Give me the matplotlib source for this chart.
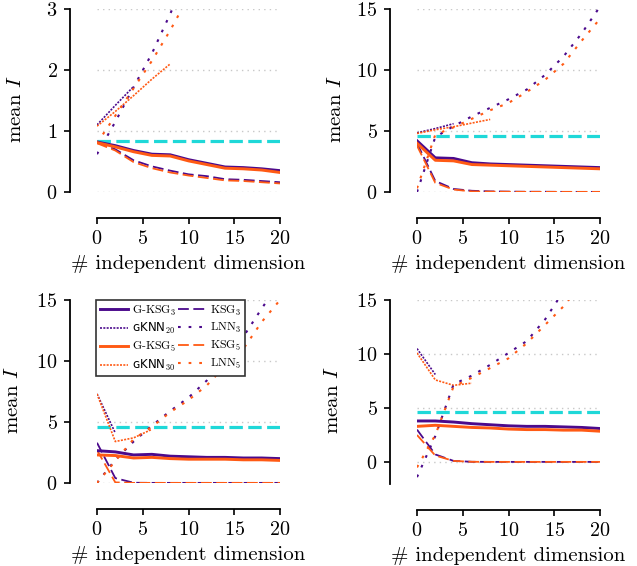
import matplotlib
matplotlib.use("Agg")
import matplotlib.pyplot as plt
import numpy as np

plt.rcParams['font.family'] = ['cmr10', 'DejaVu Serif']
plt.rcParams['mathtext.fontset'] = 'cm'
plt.rcParams['axes.unicode_minus'] = False
plt.rcParams['axes.formatter.use_mathtext'] = True

PURPLE = '#4b0a8c'
ORANGE = '#ff5a14'
CYAN = '#1fd8d8'

dims = [0, 2, 4, 6, 8, 10, 12, 14, 16, 18, 20]

# ---- panel 1 ----
p1_gksg3 = [0.82, 0.76, 0.68, 0.62, 0.61, 0.53, 0.47, 0.41, 0.40, 0.38, 0.35]
p1_gksg5 = [0.81, 0.74, 0.66, 0.60, 0.59, 0.51, 0.45, 0.39, 0.38, 0.36, 0.32]
p1_ksg3 = [0.82, 0.70, 0.52, 0.42, 0.35, 0.29, 0.26, 0.21, 0.20, 0.18, 0.16]
p1_ksg5 = [0.80, 0.68, 0.49, 0.39, 0.32, 0.27, 0.23, 0.19, 0.18, 0.16, 0.14]
p1_gknn20 = [1.10, 1.42, 1.73]
p1_gknn30 = [1.08, 1.32, 1.58, 1.85, 2.10]
p1_lnn3 = [0.62, 1.15, 1.72, 2.27, 2.92, 3.60, 4.30, 5.00, 5.70, 6.40, 7.10]
p1_lnn5 = [0.80, 1.25, 1.70, 2.15, 2.65, 3.20, 3.80, 4.40, 5.00, 5.60, 6.20]
p1_true = 0.83

# ---- panel 2 ----
p2_gksg3 = [4.20, 2.80, 2.75, 2.40, 2.30, 2.25, 2.20, 2.15, 2.10, 2.05, 2.00]
p2_gksg5 = [4.00, 2.60, 2.55, 2.25, 2.20, 2.15, 2.10, 2.05, 2.00, 1.95, 1.90]
p2_ksg3 = [4.00, 0.90, 0.25, 0.10, 0.05, 0.03, 0.02, 0.02, 0.01, 0.01, 0.01]
p2_ksg5 = [3.80, 0.75, 0.20, 0.05, 0.03, 0.02, 0.01, 0.01, 0.01, 0.01, 0.01]
p2_gknn20 = [4.85, 5.20, 5.60]
p2_gknn30 = [4.80, 5.10, 5.35, 5.65, 5.95]
p2_lnn3 = [0.00, 4.50, 5.40, 6.20, 6.90, 7.60, 8.40, 9.60, 11.10, 13.00, 15.20]
p2_lnn5 = [0.30, 4.70, 5.30, 6.00, 6.70, 7.30, 8.20, 9.20, 10.50, 12.40, 14.20]
p2_true = 4.6

# ---- panel 3 ----
p3_gksg3 = [2.65, 2.55, 2.30, 2.35, 2.20, 2.15, 2.10, 2.10, 2.05, 2.05, 2.00]
p3_gksg5 = [2.30, 2.25, 2.05, 2.10, 2.00, 1.95, 1.95, 1.95, 1.90, 1.90, 1.85]
p3_ksg3 = [3.30, 0.40, 0.02, 0.01, 0.01, 0.01, 0.01, 0.01, 0.01, 0.01, 0.01]
p3_ksg5 = [2.70, 0.05, 0.01, 0.01, 0.01, 0.01, 0.01, 0.01, 0.01, 0.01, 0.01]
p3_gknn20 = [7.30, 4.10]
p3_gknn30 = [7.30, 3.40, 3.70, 4.40]
p3_lnn3 = [0.00, 1.90, 3.40, 4.70, 5.90, 7.00, 8.40, 10.20, 12.00, 14.30, 16.50]
p3_lnn5 = [0.00, 1.80, 3.60, 4.60, 5.80, 6.80, 8.00, 9.60, 11.00, 13.20, 15.00]
p3_true = 4.6

# ---- panel 4 ----
p4_gksg3 = [3.80, 3.80, 3.70, 3.55, 3.45, 3.35, 3.30, 3.30, 3.25, 3.20, 3.10]
p4_gksg5 = [3.30, 3.40, 3.30, 3.20, 3.15, 3.05, 3.00, 3.00, 2.95, 2.95, 2.85]
p4_ksg3 = [3.00, 0.70, 0.10, 0.02, 0.01, 0.01, 0.01, 0.01, 0.01, 0.01, 0.01]
p4_ksg5 = [2.50, 0.60, 0.10, 0.02, 0.01, 0.01, 0.01, 0.01, 0.01, 0.01, 0.01]
p4_gknn20 = [10.50, 8.10]
p4_gknn30 = [10.10, 7.60, 7.10, 7.30]
p4_lnn3 = [-1.40, 2.40, 7.20, 8.00, 9.00, 10.10, 11.20, 13.20, 15.80, 18.00, 20.00]
p4_lnn5 = [-0.50, 2.50, 7.00, 7.80, 8.70, 9.60, 11.00, 12.70, 14.40, 16.50, 18.50]
p4_true = 4.6

panels = [
    dict(gksg3=p1_gksg3, gksg5=p1_gksg5, ksg3=p1_ksg3, ksg5=p1_ksg5,
         gknn20=p1_gknn20, gknn30=p1_gknn30, lnn3=p1_lnn3, lnn5=p1_lnn5,
         true=p1_true, ylim=(0, 3), yticks=[0, 1, 2, 3], ybounds=(0, 3)),
    dict(gksg3=p2_gksg3, gksg5=p2_gksg5, ksg3=p2_ksg3, ksg5=p2_ksg5,
         gknn20=p2_gknn20, gknn30=p2_gknn30, lnn3=p2_lnn3, lnn5=p2_lnn5,
         true=p2_true, ylim=(0, 15), yticks=[0, 5, 10, 15], ybounds=(0, 15)),
    dict(gksg3=p3_gksg3, gksg5=p3_gksg5, ksg3=p3_ksg3, ksg5=p3_ksg5,
         gknn20=p3_gknn20, gknn30=p3_gknn30, lnn3=p3_lnn3, lnn5=p3_lnn5,
         true=p3_true, ylim=(0, 15), yticks=[0, 5, 10, 15], ybounds=(0, 15)),
    dict(gksg3=p4_gksg3, gksg5=p4_gksg5, ksg3=p4_ksg3, ksg5=p4_ksg5,
         gknn20=p4_gknn20, gknn30=p4_gknn30, lnn3=p4_lnn3, lnn5=p4_lnn5,
         true=p4_true, ylim=(-2, 15), yticks=[0, 5, 10, 15], ybounds=(-2, 15)),
]

W, H = 637, 566
fig = plt.figure(figsize=(W / 100, H / 100), dpi=100)

# pixel boxes (left, top, right, bottom)
boxes = [(97, 9, 280, 192), (417, 9, 600, 192), (97, 300, 280, 483), (417, 300, 600, 483.6)]
ylab_x = [-0.393, -0.393, -0.41, -0.41]

axes = []
for i, (box, p) in enumerate(zip(boxes, panels)):
    l, t, r, b = box
    ax = fig.add_axes([l / W, 1 - b / H, (r - l) / W, (b - t) / H])
    axes.append(ax)
    x = dims
    ax.axhline(p['true'], color=CYAN, lw=2.3, dashes=(4.2, 1.7), zorder=1)
    ax.plot(x, p['gksg3'], color=PURPLE, lw=2.1, label='G-KSG$_3$', zorder=5)
    ax.plot(x, p['gksg5'], color=ORANGE, lw=2.1, label='G-KSG$_5$', zorder=5)
    ax.plot(x, p['ksg3'], color=PURPLE, lw=1.3, dashes=(6, 2.5), label='KSG$_3$', zorder=4)
    ax.plot(x, p['ksg5'], color=ORANGE, lw=1.3, dashes=(6, 2.5), label='KSG$_5$', zorder=4)
    ax.plot(x[:len(p['gknn20'])], p['gknn20'], color=PURPLE, lw=1.2, dashes=(1.2, 0.8),
            label='gKNN20', zorder=3)
    ax.plot(x[:len(p['gknn30'])], p['gknn30'], color=ORANGE, lw=1.2, dashes=(1.2, 0.8),
            label='gKNN30', zorder=3)
    ax.plot(x, p['lnn3'], color=PURPLE, lw=1.5, dashes=(1.3, 3.8), label='LNN$_3$', zorder=3)
    ax.plot(x, p['lnn5'], color=ORANGE, lw=1.5, dashes=(1.3, 3.8), label='LNN$_5$', zorder=3)

    ax.set_xlim(0, 20)
    ax.set_ylim(*p['ylim'])
    ax.set_xticks([0, 5, 10, 15, 20])
    ax.set_yticks(p['yticks'])
    ax.yaxis.grid(True, ls=(0, (1, 3)), color='#c8c8c8', lw=1.0)
    ax.set_axisbelow(True)
    for s in ['top', 'right']:
        ax.spines[s].set_visible(False)
    ax.spines['left'].set_position(('outward', 19.4))
    ax.spines['bottom'].set_position(('outward', 18.7))
    ax.spines['left'].set_bounds(*p['ybounds'])
    ax.spines['bottom'].set_bounds(0, 20)
    for s in ['left', 'bottom']:
        ax.spines[s].set_linewidth(1.3)
        ax.spines[s].set_color('black')
    ax.tick_params(axis='both', direction='out', length=4.5, width=1.2, labelsize=14.5,
                   colors='black', pad=4.5)
    ax.set_xlabel('# independent dimension', fontsize=15, labelpad=5)
    ax.set_ylabel('mean $I$', fontsize=15)
    ax.yaxis.set_label_coords(ylab_x[i], 0.455)
    ax.patch.set_visible(False)

# legend in bottom-left panel
ax3 = axes[2]
h, lab = ax3.get_legend_handles_labels()
hm = dict(zip(lab, h))
order = ['G-KSG$_3$', 'gKNN20', 'G-KSG$_5$', 'gKNN30',
         'KSG$_3$', 'LNN$_3$', 'KSG$_5$', 'LNN$_5$']
shown = ['G-KSG$_3$', 'ɢKNN$_{20}$', 'G-KSG$_5$', 'ɢKNN$_{30}$',
         'KSG$_3$', 'LNN$_3$', 'KSG$_5$', 'LNN$_5$']
leg = ax3.legend([hm[o] for o in order], shown, ncol=2, loc='upper left',
                 bbox_to_anchor=(96 / W, 1 - 376 / H, 149 / W, 76 / H),
                 bbox_transform=fig.transFigure, mode='expand',
                 borderaxespad=0, fontsize=8.5, frameon=True, fancybox=False,
                 handlelength=2.4, handletextpad=0.35, columnspacing=0.4,
                 labelspacing=0.32, borderpad=0.3)
for t in leg.get_texts():
    if 'KNN' in t.get_text():
        t.set_fontfamily(['DejaVu Sans', 'cmr10'])
leg.get_frame().set_edgecolor('#333333')
leg.get_frame().set_linewidth(1.2)
leg.get_frame().set_alpha(1)
leg.set_zorder(10)

fig.savefig('out.png', dpi=100)
